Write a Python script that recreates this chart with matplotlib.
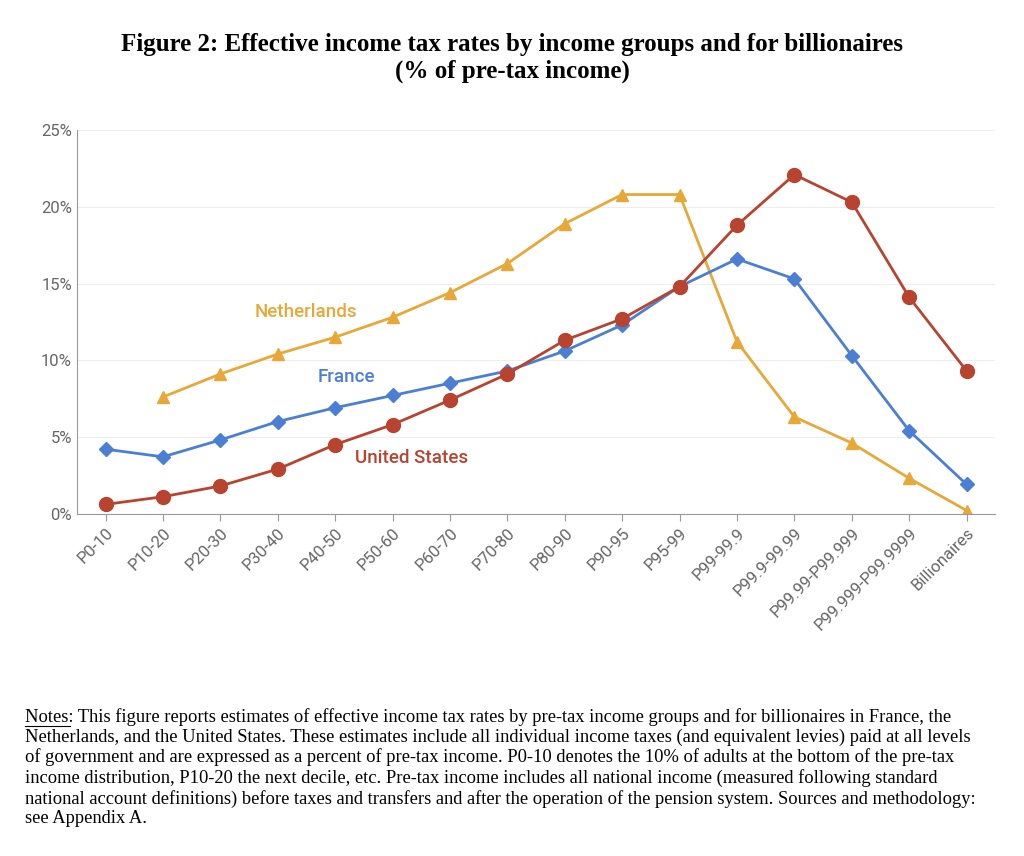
import matplotlib.pyplot as plt
import numpy as np

groups = ["P0-10", "P10-20", "P20-30", "P30-40", "P40-50", "P50-60", "P60-70", "P70-80",
          "P80-90", "P90-95", "P95-99", "P99-99.9", "P99.9-99.99", "P99.99-P99.999",
          "P99.999-P99.9999", "Billionaires"]
netherlands = [np.nan, 7.6, 9.1, 10.4, 11.5, 12.8, 14.4, 16.3, 18.9, 20.8, 20.8, 11.2, 6.3, 4.6, 2.3, 0.2]
france = [4.2, 3.7, 4.8, 6.0, 6.9, 7.7, 8.5, 9.3, 10.6, 12.3, 14.8, 16.6, 15.3, 10.3, 5.4, 1.9]
usa = [0.6, 1.1, 1.8, 2.9, 4.5, 5.8, 7.4, 9.1, 11.3, 12.7, 14.8, 18.8, 22.1, 20.3, 14.1, 9.3]

c_nl = "#e8a838"
c_fr = "#4a7fd4"
c_us = "#b8432f"

plt.rcParams['font.family'] = ['Roboto', 'DejaVu Sans']

fig = plt.figure(figsize=(10.24, 8.56), dpi=100)
ax = fig.add_axes([0.075, 0.4, 0.897, 0.448])
x = np.arange(len(groups))

ax.plot(x, netherlands, color=c_nl, marker="^", markersize=9, lw=2)
ax.plot(x, france, color=c_fr, marker="D", markersize=7, lw=2)
ax.plot(x, usa, color=c_us, marker="o", markersize=10, lw=2)

ax.set_ylim(0, 25)
ax.set_xlim(-0.5, len(groups) - 0.5)
ax.set_yticks([0, 5, 10, 15, 20, 25])
ax.set_yticklabels([f"{v}%" for v in [0, 5, 10, 15, 20, 25]], color="#666666", fontsize=12)
ax.set_xticks(x)
ax.set_xticklabels(groups, rotation=45, ha="right", rotation_mode="anchor", color="#666666", fontsize=12)
ax.grid(axis="y", color="#eeeeee")
ax.set_axisbelow(True)
for s in ["top", "right"]:
    ax.spines[s].set_visible(False)
for s in ["left", "bottom"]:
    ax.spines[s].set_color("#999999")
ax.tick_params(axis="x", length=5, color="#999999")
ax.tick_params(axis="y", length=0)

ax.text(2.6, 12.8, "Netherlands", color=c_nl, fontsize=13.5, fontweight="medium")
ax.text(3.7, 8.6, "France", color=c_fr, fontsize=13.5, fontweight="medium")
ax.text(4.35, 3.3, "United States", color=c_us, fontsize=13.5, fontweight="medium")

fig.text(0.5, 0.962, "Figure 2: Effective income tax rates by income groups and for billionaires\n(% of pre-tax income)",
         ha="center", va="top", fontsize=18, fontweight="bold", family="Liberation Serif", linespacing=1.25)

notes = ("This figure reports estimates of effective income tax rates by pre-tax income groups and for billionaires in France, the\n"
         "Netherlands, and the United States. These estimates include all individual income taxes (and equivalent levies) paid at all levels\n"
         "of government and are expressed as a percent of pre-tax income. P0-10 denotes the 10% of adults at the bottom of the pre-tax\n"
         "income distribution, P10-20 the next decile, etc. Pre-tax income includes all national income (measured following standard\n"
         "national account definitions) before taxes and transfers and after the operation of the pension system. Sources and methodology:\n"
         "see Appendix A.")
fig.text(0.024, 0.173, "Notes: " + notes, fontsize=13.3, family="Liberation Serif", va="top", linespacing=1.2)
fig.add_artist(plt.Line2D([0.024, 0.068], [0.152, 0.152], color="black", lw=0.8))

fig.savefig("out.png")
